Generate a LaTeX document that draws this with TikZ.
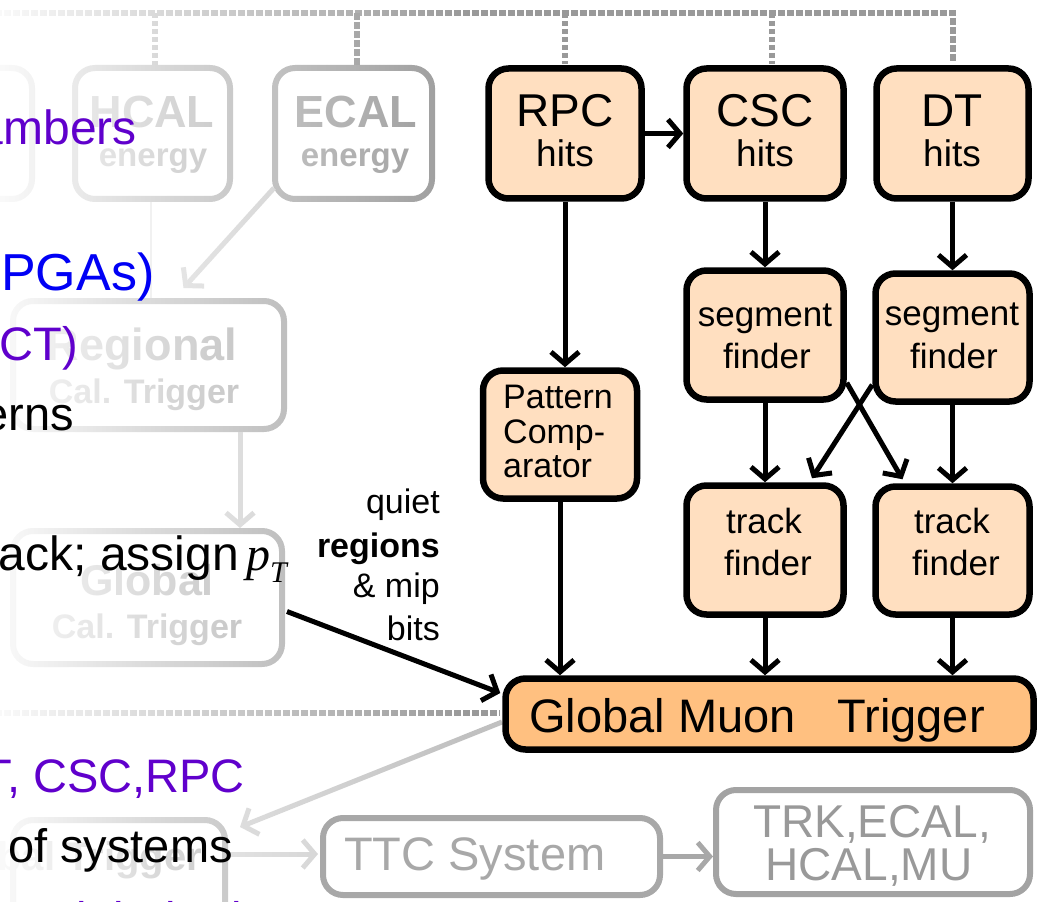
\documentclass[tikz,border=0pt]{standalone}
\usepackage{fontspec}
\setmainfont{Liberation Sans}
\newfontfamily\serifit{Liberation Serif}
\usetikzlibrary{arrows.meta,fadings}
\tikzfading[name=leftfade, left color=transparent!5, middle color=transparent!50, right color=transparent!100]
\definecolor{peach}{HTML}{FFDFC0}
\definecolor{gmtfill}{HTML}{FFC080}
\definecolor{purp}{HTML}{6000CC}
\definecolor{blu}{HTML}{0000F5}
\definecolor{ga}{HTML}{999999}
\definecolor{gb}{HTML}{C0C0C0}
\definecolor{gc}{HTML}{A8A8A8}
\newcommand\fsz[1]{\fontsize{#1}{#1}\selectfont}
\tikzset{
  mbox/.style={draw=black, line width=6.5pt, fill=peach, rounded corners=20pt, inner sep=0pt},
  gbox/.style={draw=ga, line width=6pt, fill=white, rounded corners=20pt, inner sep=0pt},
  txt/.style={inner sep=0pt, anchor=base},
  arr/.style={line width=5pt, -{Straight Barb[length=12pt,width=28pt]}},
  garr/.style={arr, draw=gb},
  dline/.style={draw=ga, line width=6pt, dash pattern=on 7pt off 2pt},
  vdot/.style={draw=ga, line width=6pt, dash pattern=on 5pt off 3pt},
}
\begin{document}
\begin{tikzpicture}[x=1pt,y=-1pt]
\useasboundingbox (0,0) rectangle (1040,901);
\clip (0,0) rectangle (1040,901);

% ---------- gray (faded) part ----------
\coordinate (topL) at (-5,13);
\coordinate (topR) at (953,13);
\coordinate (dashL) at (-5,713);
\coordinate (gx) at (240,0);

\node[gbox, minimum width=155pt, minimum height=131pt] (LB) at (-45.5,133.5) {};
\node[gbox, minimum width=155pt, minimum height=131pt] (HCAL) at (152.5,133.5) {};
\node[gbox, minimum width=157pt, minimum height=131pt] (ECAL) at (353.5,133.5) {};
\node[gbox, minimum width=271pt, minimum height=128pt] (Reg) at (148.5,365) {};
\node[gbox, minimum width=269pt, minimum height=133pt] (GCT) at (147.5,597.5) {};
\node[gbox, minimum width=212pt, minimum height=122pt] (L1) at (119,881) {};

\node[txt, text=ga, font=\fsz{45}\bfseries] (HCALa) at (152,128) {HCAL};
\node[txt, text=ga, font=\fsz{33}\bfseries] (HCALb) at (153,167) {energy};
\node[txt, text=ga, font=\fsz{45}\bfseries] (ECALa) at (356,128) {ECAL};
\node[txt, text=ga, font=\fsz{33}\bfseries] (ECALb) at (355,167) {energy};
\node[txt, text=ga, font=\fsz{45}\bfseries] (Rega) at (142,360) {Regional};
\node[txt, text=ga, font=\fsz{34}\bfseries] (Regb) at (144,403) {Cal. Trigger};
\node[txt, text=ga, font=\fsz{43}\bfseries] (GCTa) at (147,595) {Global};
\node[txt, text=ga, font=\fsz{34}\bfseries] (GCTb) at (147,638) {Cal. Trigger};
\node[txt, anchor=base east, text=ga, font=\fsz{40}\bfseries] (L1a) at (202,870) {Global Trigger};

\draw[dline] (topL) -- (topR) -- (topR |- 0,62);
\draw[vdot] (155,13) -- (HCAL.north -| 155,0);
\draw[dline, draw=ga!110] (357,13) -- (ECAL.north -| 357,0);
\draw[vdot] (565,13) -- (565,64);
\draw[vdot] (772,13) -- (772,64);
\draw[draw=gray!30, line width=2pt] ([xshift=-2pt]HCAL.south) -- ([xshift=-2pt]HCAL.south |- Reg.north);
\draw[garr] ([shift={(2,-14)}]ECAL.south west) -- ([shift={(35,-10)}]Reg.north);
\draw[garr] (Reg.south -| gx) -- (GCT.north -| gx);
\draw[dline] (dashL) -- (500,713);
\draw[garr] (502,722) -- ([shift={(12,10)}]L1.north east);
\draw[garr, draw=gray!45] (L1.east |- 0,854) -- (318,854);

% fade overlay
\fill[white, path fading=leftfade] (0,-5) rectangle (470,906);

% ---------- TTC / TRK ----------
\node[gbox, draw=gc, minimum width=337pt, minimum height=77pt] (TTC) at (491.5,856.5) {};
\node[gbox, draw=ga!90, minimum width=314pt, minimum height=104pt] (TRK) at (873,842) {};
\node[txt, anchor=base west, text=gc, font=\fsz{47}] (TTCa) at (344,870) {TTC System};
\node[txt, text=ga, font=\fsz{46}] (TRKa) at (872,837) {TRK,ECAL,};
\node[txt, text=ga, font=\fsz{46}] (TRKb) at (869,880) {HCAL,MU};
\draw[garr, draw=gc] (TTC.east) -- (TTC.east -| TRK.west);

% ---------- muon trigger ----------
\node[mbox, minimum width=153pt, minimum height=130pt] (RPC) at (565,133.5) {};
\node[mbox, minimum width=157pt, minimum height=130pt] (CSC) at (765,133.5) {};
\node[mbox, minimum width=152pt, minimum height=130pt] (DT) at (952.5,133.5) {};
\node[mbox, minimum width=154pt, minimum height=128pt] (PC) at (560,434.5) {};
\node[mbox, minimum width=157pt, minimum height=129pt] (segL) at (765,335) {};
\node[mbox, minimum width=154pt, minimum height=128pt] (segR) at (952.5,337.5) {};
\node[mbox, minimum width=157pt, minimum height=129pt] (trkL) at (765,550) {};
\node[mbox, minimum width=154pt, minimum height=128pt] (trkR) at (952.5,550.5) {};
\node[mbox, fill=gmtfill, minimum width=528pt, minimum height=71pt] (GMT) at (769.5,714) {};

\node[txt, font=\fsz{46}] (RPCa) at (565,127) {RPC};
\node[txt, font=\fsz{37}] (RPCb) at (565,167) {hits};
\node[txt, font=\fsz{46}] (CSCa) at (765,127) {CSC};
\node[txt, font=\fsz{37}] (CSCb) at (765,167) {hits};
\node[txt, font=\fsz{46}] (DTa) at (952,127) {DT};
\node[txt, font=\fsz{37}] (DTb) at (952,167) {hits};
\node[txt, anchor=base west, font=\fsz{34}] (PCa) at (503,408) {Pattern};
\node[txt, anchor=base west, font=\fsz{34}] (PCb) at (503,443) {Comp-};
\node[txt, anchor=base west, font=\fsz{34}] (PCc) at (503,477) {arator};
\node[txt, font=\fsz{35}] (segLa) at (765,326) {segment};
\node[txt, font=\fsz{35}] (segLb) at (767,368) {finder};
\node[txt, font=\fsz{35}] (segRa) at (952,325) {segment};
\node[txt, font=\fsz{35}] (segRb) at (954,368) {finder};
\node[txt, font=\fsz{35}] (trkLa) at (764,533) {track};
\node[txt, font=\fsz{35}] (trkLb) at (768,575) {finder};
\node[txt, font=\fsz{35}] (trkRa) at (952,533) {track};
\node[txt, font=\fsz{35}] (trkRb) at (956,575) {finder};
\node[txt, anchor=base west, font=\fsz{47}] (GMTa) at (529,732) {Global Muon\hspace{42pt}Trigger};

\draw[arr] (RPC.east) -- (CSC.west);
\draw[arr] (RPC.south) -- (RPC.south |- PC.north);
\draw[arr] (CSC.south) -- (segL.north);
\draw[arr] (DT.south) -- (segR.north);
\draw[arr] (segL.south) -- (trkL.north);
\draw[arr] (segR.south) -- (trkR.north);
\draw[arr] ([shift={(0,-20)}]segL.south east) -- ([shift={(-50,-4)}]trkR.north);
\draw[arr] ([shift={(0,-20)}]segR.south west) -- ([shift={(47,-4)}]trkL.north);
\draw[arr] (PC.south) -- (PC.south |- GMT.north);
\draw[arr] (trkL.south) -- (trkL.south |- GMT.north);
\draw[arr] (trkR.south) -- (trkR.south |- GMT.north);
\draw[arr] ([shift={(2,14)}]GCT.east) -- ([shift={(-2,-21)}]GMT.west);

\node[txt, anchor=base east, font=\fsz{34}] (q1) at (440,513) {quiet};
\node[txt, anchor=base east, font=\fsz{34}\bfseries] (q2) at (440,557) {regions};
\node[txt, anchor=base east, font=\fsz{34}] (q3) at (440,597) {\& mip};
\node[txt, anchor=base east, font=\fsz{34}] (q4) at (440,640) {bits};

% ---------- slide text ----------
\node[txt, anchor=base east, text=purp, font=\fsz{48}] (s1) at (137,145) {chambers};
\node[txt, anchor=base west, text=blu, font=\fsz{52}] (s2) at (1,290) {PGAs)};
\node[txt, anchor=base east, text=purp, font=\fsz{47}] (s3) at (78,360) {(RCT)};
\node[txt, anchor=base east, font=\fsz{47}] (s4) at (74,430) {patterns};
\node[txt, anchor=base east, font=\fsz{48}] (s5) at (239,570) {track; assign};
\node[txt, anchor=base west, font=\fsz{48}] (s6) at (246,570) {\serifit\itshape p\raisebox{-12pt}{\fsz{30}T}};
\node[txt, anchor=base east, text=purp, font=\fsz{47}] (s7) at (245,792) {DT, CSC,RPC};
\node[txt, anchor=base west, font=\fsz{47}] (s8) at (8,862) {of systems};
\node[txt, anchor=base west, text=purp, font=\fsz{47}] (s9) at (40,935) {Global Trigger};
\end{tikzpicture}
\end{document}
